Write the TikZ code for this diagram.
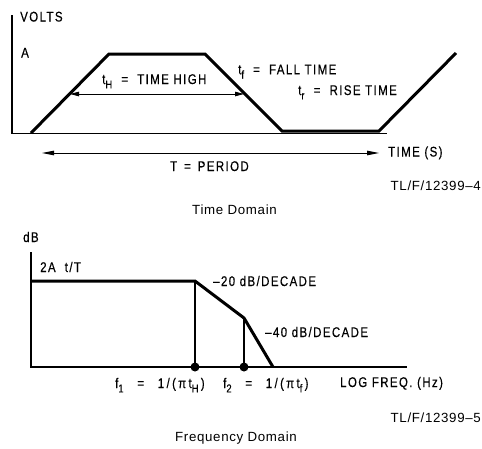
\documentclass[tikz,border=0pt]{standalone}
\usepackage{fontspec}
\setmainfont{Liberation Sans}
\newfontfamily\plotfont[FakeStretch=0.82,LetterSpace=10,FakeBold=0.4]{Liberation Sans}
\usetikzlibrary{arrows.meta}
\newcommand{\lowidx}[2]{#1\raisebox{-0.6ex}{\fontsize{11.5}{11.5}\selectfont #2}}
\tikzset{
	axis/.style={line width=1.3pt},
	wave/.style={line width=3pt,line join=miter},
	guide/.style={line width=1.1pt},
	lbl/.style={font=\plotfont\fontsize{14}{16}\selectfont,inner sep=0pt,anchor=base west},
	caption/.style={font=\addfontfeature{LetterSpace=5}\fontsize{13.3}{15}\selectfont,inner sep=0pt},
	span/.style={line width=0.9pt,{Triangle[length=9pt,width=4.5pt]}-{Triangle[length=9pt,width=4.5pt]}},
	period/.style={line width=0.9pt,{Triangle[length=12pt,width=4.5pt]}-{Triangle[length=12pt,width=4.5pt]}}
}
\begin{document}
\begin{tikzpicture}[x=1pt,y=-1pt]
			\useasboundingbox (0,0) rectangle (482,448);
			% time domain
			\coordinate (V0) at (12,15);
			\coordinate (V1) at (12,133.5);
			\coordinate (V2) at (387,133.5);
			\draw[axis] (V0)--(V1)--(V2);
			\coordinate (W0) at (31,133);
			\coordinate (W1) at (109,54);
			\coordinate (W2) at (205,54);
			\coordinate (W3) at (282,131);
			\coordinate (W4) at (379,131);
			\coordinate (W5) at (456,53);
			\draw[wave] (W0)--(W1)--(W2)--(W3)--(W4)--(W5);
			\coordinate (H1) at (70,94);
			\coordinate (H2) at (244,94);
			\draw[span] (H1)--(H2);
			\coordinate (P1) at (42,153);
			\coordinate (P2) at (379,153);
			\draw[period] (P1)--(P2);
			\node[lbl] (volts) at (20,21.5) {VOLTS};
			\node[lbl] (amp) at (21,57.5) {A};
			\node[lbl] (thigh) at (102,84) {\lowidx{t}{H}\ \ =\ \ TIME HIGH};
			\node[lbl] (tfall) at (238,74.3) {\lowidx{t}{f}\ \ =\ \ FALL TIME};
			\node[lbl] (trise) at (298,95) {\lowidx{t}{r}\ \ =\ \ RISE TIME};
			\node[lbl] (tsec) at (388,156.5) {TIME (S)};
			\node[lbl] (tper) at (170,171) {T\ \,=\ \,PERIOD};
			\node[caption,anchor=base east] (fig4) at (481,190) {TL/F/12399–4};
			\node[caption,anchor=base] (tdom) at (234.5,214) {Time Domain};
			% frequency domain
			\coordinate (D0) at (31,252);
			\coordinate (D1) at (31,367);
			\coordinate (D2) at (407,367);
			\draw[axis] (D0)--(D1)--(D2);
			\coordinate (G0) at (31,281);
			\coordinate (G1) at (195,281);
			\coordinate (G2) at (244,318);
			\coordinate (G3) at (273,367);
			\draw[wave] (G0)--(G1)--(G2)--(G3);
			\coordinate (F1) at (195,367);
			\coordinate (F2) at (244,367);
			\draw[guide] (G1)--(F1);
			\draw[guide] (G2)--(F2);
			\foreach \P in {F1,F2} \fill[black] (\P) circle (4.5);
			\node[lbl] (db) at (23,242) {dB};
			\node[lbl] (gain) at (40,272) {2A\ \ t/T};
			\node[lbl] (slope1) at (213,286) {–20\ dB/DECADE};
			\node[lbl] (slope2) at (265,337) {–40\ dB/DECADE};
			\node[lbl] (fone) at (115,388) {\lowidx{f}{1}\ \ \ =\ \ \ 1\,/\,(\,π\,\lowidx{t}{H}\,)};
			\node[lbl] (ftwo) at (223,388) {\lowidx{f}{2}\ \ \ =\ \ \ 1\,/\,(\,π\,\lowidx{t}{f}\,)};
			\node[lbl] (logf) at (340,387) {LOG FREQ. (Hz)};
			\node[caption,anchor=base east] (fig5) at (481,422) {TL/F/12399–5};
			\node[caption,anchor=base] (fdom) at (236,441) {Frequency Domain};
		\end{tikzpicture}
\end{document}
